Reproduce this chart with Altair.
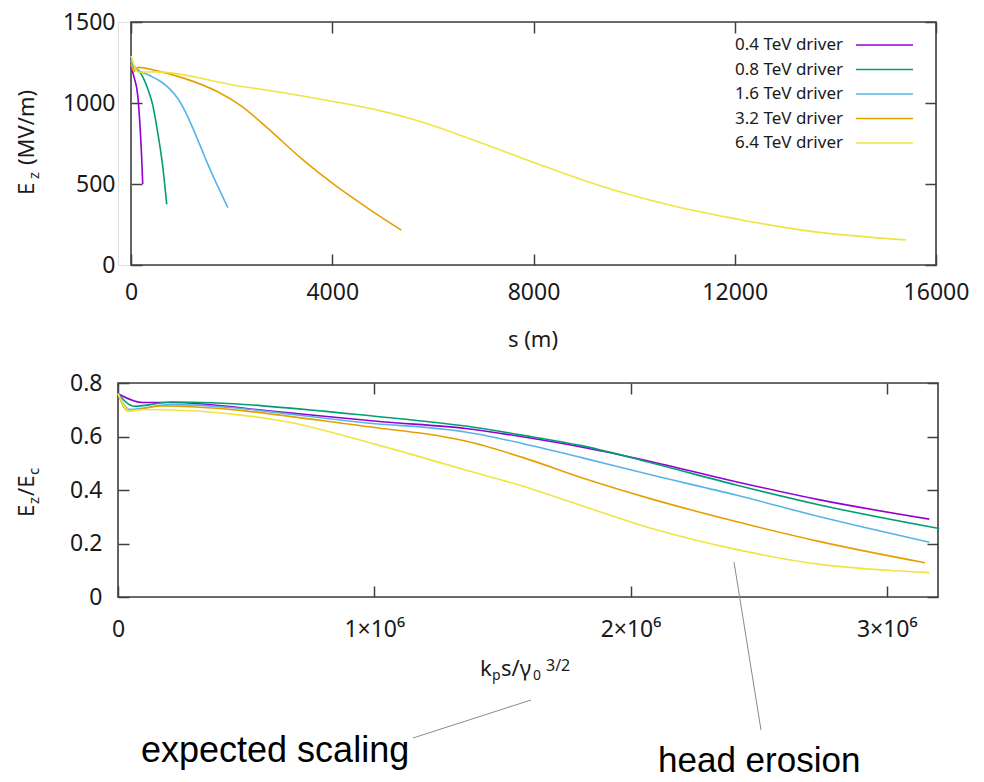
import altair as alt
import pandas as pd

series = ["0.4 TeV driver", "0.8 TeV driver", "1.6 TeV driver", "3.2 TeV driver", "6.4 TeV driver"]
colors = ["#9400d3", "#009e73", "#56b4e9", "#e69f00", "#f0e442"]

# ---- top panel: s (m) vs Ez (MV/m)
s_04 = [0, 60, 133, 186, 213, 233]
e_04 = [1225, 1160, 1049, 822, 658, 500]
s_08 = [0, 100, 200, 330, 430, 530, 630, 710]
e_08 = [1250, 1215, 1180, 1090, 990, 820, 610, 374]
s_16 = [0, 50, 199, 400, 597, 760, 929, 1100, 1260, 1430, 1592, 1760, 1924]
e_16 = [1265, 1215, 1193, 1165, 1131, 1090, 1028, 935, 822, 695, 576, 462, 354]
s_32 = [0, 60, 150, 500, 1061, 1724, 2189, 2720, 3383, 4046, 4709, 5373]
e_32 = [1240, 1195, 1220, 1200, 1152, 1069, 982, 843, 658, 494, 350, 215]
s_64 = [0, 150, 500, 2056, 3000, 4046, 4988, 5702, 6775, 8062, 9277, 10707, 12138, 13566, 15400]
e_64 = [1290, 1190, 1192, 1110, 1065, 1008, 950, 890, 775, 627, 494, 370, 278, 206, 155]

# ---- bottom panel: kp s / gamma0^(3/2) vs Ez/Ec
x_04 = [0, 98e3, 208e3, 626e3, 1.030e6, 1.356e6, 1.578e6, 1.813e6, 2.087e6, 2.412e6, 2.739e6, 3.166e6]
r_04 = [0.760, 0.727, 0.727, 0.692, 0.655, 0.630, 0.599, 0.560, 0.505, 0.431, 0.363, 0.291]
x_08 = [0, 65e3, 208e3, 1.030e6, 1.356e6, 1.578e6, 1.813e6, 2.087e6, 2.412e6, 2.739e6, 3.205e6]
r_08 = [0.760, 0.713, 0.729, 0.673, 0.639, 0.605, 0.565, 0.500, 0.419, 0.344, 0.256]
x_16 = [0, 45e3, 208e3, 1.030e6, 1.2e6, 1.356e6, 1.578e6, 1.813e6, 2.087e6, 2.412e6, 2.739e6, 3.166e6]
r_16 = [0.760, 0.701, 0.719, 0.646, 0.634, 0.617, 0.574, 0.520, 0.455, 0.381, 0.300, 0.205]
x_32 = [0, 39e3, 170e3, 1.030e6, 1.2e6, 1.356e6, 1.578e6, 1.813e6, 2.087e6, 2.412e6, 2.739e6, 3.149e6]
r_32 = [0.760, 0.696, 0.714, 0.630, 0.610, 0.583, 0.522, 0.445, 0.365, 0.282, 0.207, 0.128]
x_64 = [0, 45e3, 104e3, 626e3, 1.030e6, 1.356e6, 1.578e6, 1.813e6, 2.087e6, 2.412e6, 2.739e6, 3.0e6, 3.166e6]
r_64 = [0.760, 0.696, 0.701, 0.661, 0.564, 0.475, 0.415, 0.340, 0.255, 0.178, 0.122, 0.100, 0.091]

top_ticks_x = [0, 4000, 8000, 12000, 16000]
top_ticks_y = [0, 500, 1000, 1500]
bot_ticks_x = [0, 1e6, 2e6, 3e6]
bot_ticks_y = [0, 0.2, 0.4, 0.6, 0.8]

FONT = "Noto Sans"
INK = "#1a1a1a"
FRAME = "#404040"


def frame_rows(xs_list, ys_list, xname, yname):
    rows = []
    for name, xs, ys in zip(series, xs_list, ys_list):
        for i, (a, b) in enumerate(zip(xs, ys)):
            rows.append({xname: a, yname: b, "series": name, "i": i})
    return pd.DataFrame(rows)


df_top = frame_rows([s_04, s_08, s_16, s_32, s_64], [e_04, e_08, e_16, e_32, e_64], "s", "E")
df_bot = frame_rows([x_04, x_08, x_16, x_32, x_64], [r_04, r_08, r_16, r_32, r_64], "x", "r")
df_leg = pd.DataFrame({"series": series, "rank": list(range(len(series)))})

color_scale = alt.Scale(domain=series, range=colors)
col = alt.Color("series:N", scale=color_scale, legend=None)


def axis(offset, **kw):
    return alt.Axis(grid=False, domain=False, tickSize=11, offset=offset, tickColor=FRAME,
                    tickWidth=1.5, labelFont=FONT, labelFontSize=23, labelColor=INK,
                    labelFlush=False, labelOverlap=False, title=None, **kw)


def mirror(offset, orient, values):
    return alt.Axis(grid=False, domain=False, tickSize=11, offset=offset, tickColor=FRAME,
                    tickWidth=1.5, labels=False, title=None, orient=orient, values=values)


def txt(text, x, y, size, angle=0, align="left", baseline="alphabetic", font=FONT, color=INK):
    return alt.Chart(alt.Data(values=[{}])).mark_text(
        text=text, align=align, baseline=baseline, font=font, fontSize=size, angle=angle, color=color
    ).encode(x=alt.value(x), y=alt.value(y))


def seg(x1, y1, x2, y2):
    return alt.Chart(alt.Data(values=[{}])).mark_rule(color="#8a8a8a", strokeWidth=1).encode(
        x=alt.value(x1), y=alt.value(y1), x2=alt.value(x2), y2=alt.value(y2))


def box(x1, y1, x2, y2):
    return alt.Chart(alt.Data(values=[{}])).mark_rect(
        fillOpacity=0, stroke=FRAME, strokeWidth=1.6
    ).encode(x=alt.value(x1), y=alt.value(y1), x2=alt.value(x2), y2=alt.value(y2))


# ---------------- top panel (plot area spans x 13..818 of a 818 wide view)
TW, TH, TL = 818, 243, 13
xs_top = alt.Scale(domain=[0, 16000], nice=False, range=[TL, TW])
ys_top = alt.Scale(domain=[0, 1500], nice=False)

top_lines = alt.Chart(df_top).mark_line(strokeWidth=1.6, interpolate="monotone").encode(
    x=alt.X("s:Q", scale=xs_top, axis=axis(-11, values=top_ticks_x, format="d", labelPadding=16)),
    y=alt.Y("E:Q", scale=ys_top, axis=axis(-(TL + 11), values=top_ticks_y, format="d", labelPadding=16)),
    color=col, detail="series:N",
)
top_mirror = alt.Chart(df_top).mark_point(opacity=0).encode(
    x=alt.X("s:Q", scale=xs_top, axis=mirror(-11, "top", top_ticks_x)),
    y=alt.Y("E:Q", scale=ys_top, axis=mirror(-11, "right", top_ticks_y)),
)
leg_y = alt.Y("rank:Q", scale=alt.Scale(domain=[0, 4], range=[23, 121]), axis=None)
leg_text = alt.Chart(df_leg).mark_text(align="right", baseline="middle", font=FONT, fontSize=17, color=INK).encode(
    x=alt.value(725), y=leg_y, text="series:N")
leg_rule = alt.Chart(df_leg).mark_rule(strokeWidth=1.6).encode(
    x=alt.value(738), x2=alt.value(795), y=leg_y, color=col)

top_titles = [
    txt("E", -84, 173, 22, angle=270),
    txt("z", -79, 157, 15, angle=270),
    txt("(MV/m)", -84, 143, 22, angle=270),
    txt("s (m)", 415, 318, 22, align="center", baseline="middle"),
]

top = alt.layer(
    box(TL, 0, TW, TH), top_lines, top_mirror, leg_text, leg_rule, *top_titles,
).resolve_scale(y="independent").resolve_axis(x="independent", y="independent").properties(width=TW, height=TH)

# ---------------- bottom panel
BW, BH = 820, 214
xs_bot = alt.Scale(domain=[0, 3.2e6], nice=False)
ys_bot = alt.Scale(domain=[0, 0.8], nice=False)

bot_lines = alt.Chart(df_bot).mark_line(strokeWidth=1.6, interpolate="monotone").encode(
    x=alt.X("x:Q", scale=xs_bot, axis=axis(
        -11, values=bot_ticks_x, labelPadding=21,
        labelExpr="datum.value == 0 ? '0' : format(datum.value / 1000000, 'd') + '\u00d710\u2076'")),
    y=alt.Y("r:Q", scale=ys_bot, axis=axis(
        -11, values=bot_ticks_y, labelPadding=16,
        labelExpr="datum.value == 0 ? '0' : format(datum.value, '.1f')")),
    color=col, detail="series:N",
)
bot_mirror = alt.Chart(df_bot).mark_point(opacity=0).encode(
    x=alt.X("x:Q", scale=xs_bot, axis=mirror(-11, "top", bot_ticks_x)),
    y=alt.Y("r:Q", scale=ys_bot, axis=mirror(-11, "right", bot_ticks_y)),
)

bot_titles = [
    txt("E", -84, 134, 22, angle=270),
    txt("z", -79, 121, 15, angle=270),
    txt("/E", -84, 113, 22, angle=270),
    txt("c", -79, 92, 15, angle=270),
    txt("k", 362, 293, 22),
    txt("p", 374, 297, 14),
    txt("s/\u03b3", 383, 293, 22),
    txt("0", 415, 297, 14),
    txt("3/2", 428, 288, 16),
]
annotations = [
    seg(295, 355, 413, 317),
    seg(616, 179, 643, 347),
    txt("expected scaling", 23, 379, 36, font="Liberation Sans", color="#000000"),
    txt("head erosion", 540, 389, 35, font="Liberation Sans", color="#000000"),
]

bottom = alt.layer(
    box(0, 0, BW, BH), bot_lines, bot_mirror, *bot_titles, *annotations
).resolve_axis(x="independent", y="independent").properties(width=BW, height=BH)

chart = alt.concat(top, bottom, columns=1, spacing=19).properties(
    padding={"left": 7, "top": 2, "right": 5, "bottom": 0}
).configure_view(strokeOpacity=0).configure(background="white")

chart.save("out.html", embed_options={"renderer": "svg", "actions": False})
